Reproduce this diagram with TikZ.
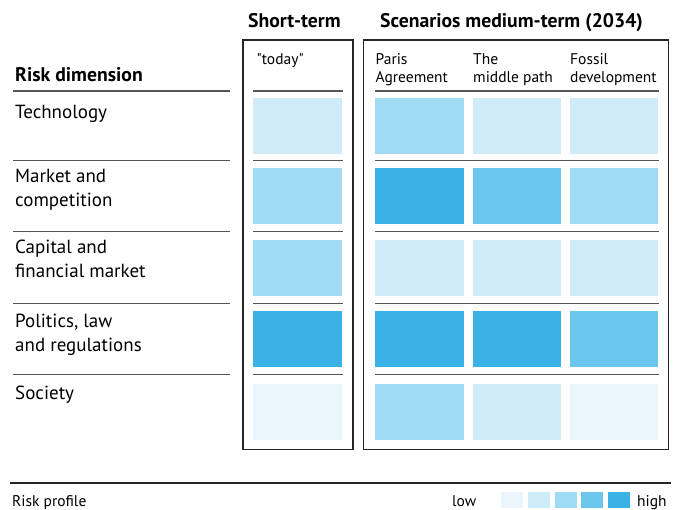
\documentclass[tikz,border=0pt]{standalone}
\usepackage{fontspec}
\setmainfont{PT Sans}
\definecolor{cA}{HTML}{EAF5FC}
\definecolor{cB}{HTML}{CFEBF7}
\definecolor{cC}{HTML}{9FDBF3}
\definecolor{cD}{HTML}{6BC6EE}
\definecolor{cE}{HTML}{3AB2E6}
\definecolor{sepgray}{HTML}{555555}
\begin{document}
\begin{tikzpicture}[x=1pt,y=-1pt,
  cell/.style={draw=none,inner sep=0pt,minimum width=88.5pt,minimum height=56pt,anchor=north west},
  legbox/.style={draw=none,inner sep=0pt,minimum width=22pt,minimum height=16pt,anchor=north west},
  rowlab/.style={font=\fontsize{19}{24}\selectfont,anchor=base west,inner sep=0pt,align=left},
  colhead/.style={font=\fontsize{15.5}{18}\selectfont,anchor=base west,inner sep=0pt,align=left},
  bighead/.style={font=\fontsize{19.7}{23}\selectfont\bfseries,anchor=base west,inner sep=0pt},
  sepline/.style={draw=sepgray,line width=1.3pt},
  frame/.style={draw=black!85,line width=1.4pt}]
\useasboundingbox[fill=white] (0,0) rectangle (673,510);
% headers
\node[bighead] (hshort) at (248,28) {Short-term};
\node[bighead] (hscen) at (380,28) {Scenarios medium-term (2034)};
\node[bighead] (hrisk) at (15,81.5) {Risk dimension};
% frames
\draw[frame] (243,40) rectangle (353,449.5);
\draw[frame] (363.5,40) rectangle (668.5,449.5);
% column headers (base anchor = last line)
\node[colhead] (today) at (256.5,65) {\textquotedbl today\textquotedbl};
\node[colhead] (paris) at (375.5,83) {Paris\\Agreement};
\node[colhead] (middle) at (473,83) {The\\middle path};
\node[colhead] (fossil) at (570,83) {Fossil\\development};
% horizontal lines
\foreach \yy in {91,160.7,231.3,303.5,374.3}{
  \draw[sepline] (13,\yy) -- (230,\yy);
  \draw[sepline] (253,\yy) -- (343,\yy);
  \draw[sepline] (375,\yy) -- (659,\yy);
}
% row labels (base anchor = last line)
\node[rowlab] (tech) at (15,118.5) {Technology};
\node[rowlab] (market) at (15,207) {Market and\\competition};
\node[rowlab] (capital) at (15,277.5) {Capital and\\financial market};
\node[rowlab] (politics) at (15,352) {Politics, law\\and regulations};
\node[rowlab] (society) at (15,400) {Society};
% cells
\foreach \r/\yy/\a/\b/\c/\d in {1/97.5/cB/cC/cB/cB, 2/168/cC/cE/cD/cC, 3/239.5/cC/cB/cB/cB, 4/311/cE/cE/cE/cD, 5/383.5/cA/cC/cB/cA}{
  \node[cell,fill=\a] (t\r) at (253,\yy) {};
  \node[cell,fill=\b] (p\r) at (375,\yy) {};
  \node[cell,fill=\c] (m\r) at (472.5,\yy) {};
  \node[cell,fill=\d] (f\r) at (569.5,\yy) {};
}
% bottom
\draw[draw=black!85,line width=2pt] (10,483.5) -- (671,483.5);
\node[colhead] (profile) at (12,507) {Risk profile};
\node[colhead] (low) at (452,507) {low};
\node[colhead] (high) at (637,507) {high};
\node[legbox,fill=cA] (l1) at (501,492) {};
\node[legbox,fill=cB] (l2) at (528,492) {};
\node[legbox,fill=cC] (l3) at (554.5,492) {};
\node[legbox,fill=cD] (l4) at (581,492) {};
\node[legbox,fill=cE] (l5) at (608,492) {};
\end{tikzpicture}
\end{document}
